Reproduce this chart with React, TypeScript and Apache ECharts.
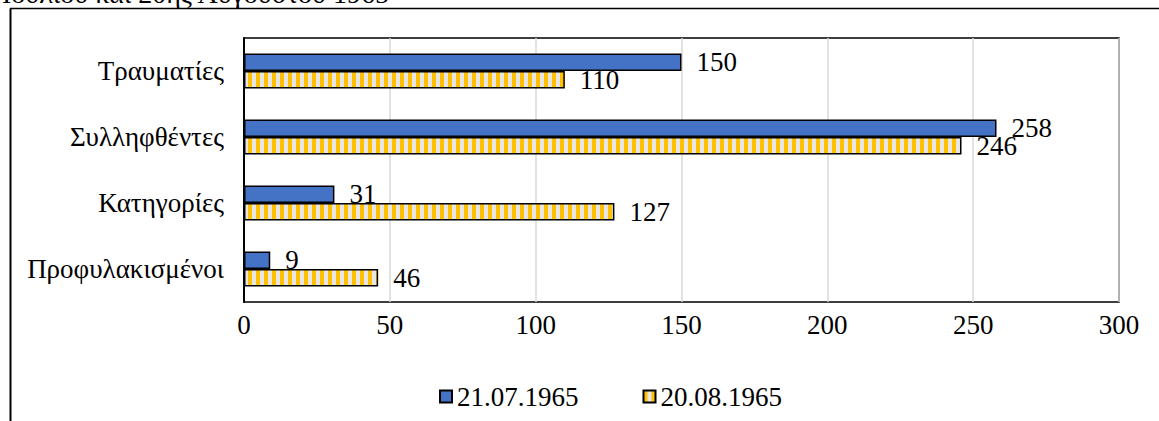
import React, { useEffect, useRef } from "react";
import * as echarts from "echarts";

const categories = ["Τραυματίες", "Συλληφθέντες", "Κατηγορίες", "Προφυλακισμένοι"];
const seriesNames = ["21.07.1965", "20.08.1965"];
const valuesJuly = [150, 258, 31, 9];
const valuesAugust = [110, 246, 127, 46];
const axisMin = 0;
const axisMax = 300;
const axisInterval = 50;
const headerText = "Ιουλίου και 20ής Αυγούστου 1965";

const FONT = "'Liberation Serif', 'Times New Roman', serif";

function makeStripePattern(): HTMLCanvasElement {
  const c = document.createElement("canvas");
  c.width = 8;
  c.height = 8;
  const ctx = c.getContext("2d")!;
  ctx.fillStyle = "#E7E6E6";
  ctx.fillRect(0, 0, 8, 8);
  ctx.fillStyle = "#FFC000";
  ctx.fillRect(0, 0, 4, 8);
  return c;
}

export default function App() {
  const ref = useRef<HTMLDivElement>(null);
  useEffect(() => {
    if (!ref.current) return;
    const chart = echarts.init(ref.current, undefined, { renderer: "svg" });
    const pattern = { image: makeStripePattern(), repeat: "repeat" };
    const labelStyle = {
      show: true,
      position: "right",
      distance: 15,
      fontSize: 27,
      fontFamily: FONT,
      color: "#000",
    };
    chart.setOption({
      animation: false,
      backgroundColor: "#fff",
      textStyle: { fontFamily: FONT },
      grid: {
        left: 244,
        right: 40,
        top: 38,
        bottom: 119,
        show: true,
        borderColor: "#000",
        borderWidth: 1.5,
        backgroundColor: "transparent",
      },
      legend: {
        left: 434,
        top: 378,
        icon: "rect",
        itemWidth: 12,
        itemHeight: 12,
        itemGap: 64,
        textStyle: { fontSize: 27, fontFamily: FONT, color: "#000" },
        data: seriesNames,
      },
      xAxis: {
        type: "value",
        min: axisMin,
        max: axisMax,
        interval: axisInterval,
        axisLine: { show: false },
        axisTick: { show: false },
        axisLabel: { fontSize: 27, fontFamily: FONT, color: "#000", margin: 9 },
        splitLine: { show: true, lineStyle: { color: "#D9D9D9", width: 1.5 } },
      },
      yAxis: {
        type: "category",
        inverse: true,
        data: categories,
        axisLine: { show: true, lineStyle: { color: "#000", width: 2 } },
        axisTick: { show: false },
        axisLabel: { fontSize: 27, fontFamily: FONT, color: "#000", margin: 20 },
      },
      graphic: [
        {
          type: "line",
          shape: { x1: 10.5, y1: 8.5, x2: 10.5, y2: 421 },
          style: { stroke: "#000", lineWidth: 2 },
        },
        {
          type: "line",
          shape: { x1: 10, y1: 8.5, x2: 1159, y2: 8.5 },
          style: { stroke: "#000", lineWidth: 1.5 },
        },
        {
          type: "text",
          x: 2,
          y: -7,
          style: {
            text: headerText,
            font: `28px ${FONT}`,
            fill: "#000",
            verticalAlign: "middle",
          },
        },
      ],
      series: [
        {
          name: seriesNames[0],
          type: "bar",
          data: valuesJuly,
          barWidth: 17.5,
          barGap: "0%",
          itemStyle: { color: "#4472C4", borderColor: "#000", borderWidth: 1.5 },
          label: labelStyle,
        },
        {
          name: seriesNames[1],
          type: "bar",
          data: valuesAugust,
          barWidth: 17.5,
          barGap: "0%",
          itemStyle: { color: pattern, borderColor: "#000", borderWidth: 1.5 },
          label: labelStyle,
        },
      ],
    });
    return () => chart.dispose();
  }, []);
  return (
    <div
      ref={ref}
      style={{ position: "absolute", left: 0, top: 0, width: 1159, height: 421, background: "#fff" }}
    />
  );
}
